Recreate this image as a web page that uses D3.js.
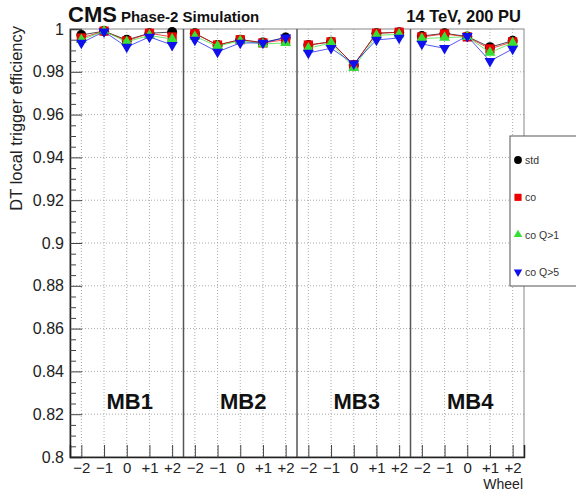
<!DOCTYPE html>
<html>
<head>
<meta charset="utf-8">
<script src="https://cdn.jsdelivr.net/npm/d3@7"></script>
<style>
  body { margin: 0; background: #fff; }
  svg { display: block; font-family: "Liberation Sans", Arial, sans-serif; }
</style>
</head>
<body>
<div id="chart"></div>
<script>
// data: 4 stations x 5 wheels
const stations = ["MB1", "MB2", "MB3", "MB4"];
const wheels = ["\u22122", "\u22121", "0", "+1", "+2"];
const yTicks = [0.8, 0.82, 0.84, 0.86, 0.88, 0.9, 0.92, 0.94, 0.96, 0.98, 1];

const effStd  = [0.9972, 0.9990, 0.9949, 0.9980, 0.9986,  0.9980, 0.9925, 0.9950, 0.9937, 0.9960,
                 0.9925, 0.9940, 0.9832, 0.9980, 0.9985,  0.9967, 0.9980, 0.9965, 0.9915, 0.9945];
const effCo   = [0.9958, 0.9990, 0.9944, 0.9980, 0.9963,  0.9978, 0.9925, 0.9950, 0.9935, 0.9950,
                 0.9925, 0.9940, 0.9832, 0.9980, 0.9985,  0.9963, 0.9977, 0.9963, 0.9907, 0.9940];
const effQ1   = [0.9949, 0.9990, 0.9940, 0.9970, 0.9953,  0.9965, 0.9920, 0.9945, 0.9930, 0.9935,
                 0.9910, 0.9935, 0.9818, 0.9970, 0.9975,  0.9955, 0.9960, 0.9963, 0.9890, 0.9935];
const effQ5   = [0.9935, 0.9988, 0.9916, 0.9963, 0.9925,  0.9949, 0.9893, 0.9935, 0.9935, 0.9960,
                 0.9888, 0.9910, 0.9838, 0.9949, 0.9958,  0.9930, 0.9910, 0.9967, 0.9850, 0.9907];

const series = [
  {name: "std",      vals: effStd, color: "#000000", shape: d3.symbolCircle,   size: 80},
  {name: "co",       vals: effCo,  color: "#ee0000", shape: d3.symbolSquare,   size: 85},
  {name: "co Q>1",   vals: effQ1,  color: "#33e033", shape: d3.symbolTriangle, size: 52},
  {name: "co Q>5",   vals: effQ5,  color: "#1010ee", shape: "down",            size: 52}
];

const W = 576, H = 493;
const pLeft = 70, pRight = 524, pTop = 29, pBottom = 457;

const svg = d3.select("#chart").append("svg")
  .attr("width", W).attr("height", H);

const x = d3.scaleLinear().domain([0, 20]).range([pLeft, pRight]);
const y = d3.scaleLinear().domain([0.8, 1]).range([pBottom, pTop]);
const idx = d3.range(20);

// grid
svg.append("g").selectAll("line")
  .data(yTicks.slice(1, -1))
  .join("line")
  .attr("x1", pLeft).attr("x2", pRight)
  .attr("y1", d => y(d)).attr("y2", d => y(d))
  .attr("stroke", "#aaa").attr("stroke-dasharray", "1,2");
svg.append("g").selectAll("line")
  .data(idx)
  .join("line")
  .attr("x1", d => x(d + 0.5)).attr("x2", d => x(d + 0.5))
  .attr("y1", pTop).attr("y2", pBottom)
  .attr("stroke", "#aaa").attr("stroke-dasharray", "1,2");

// frame
svg.append("rect")
  .attr("x", pLeft).attr("y", pTop)
  .attr("width", pRight - pLeft).attr("height", pBottom - pTop)
  .attr("fill", "none").attr("stroke", "#888");

// station dividers
svg.append("g").selectAll("line")
  .data([5, 10, 15])
  .join("line")
  .attr("x1", d => x(d)).attr("x2", d => x(d))
  .attr("y1", pTop).attr("y2", pBottom)
  .attr("stroke", "#555").attr("stroke-width", 1.5);

// y axis
const yAxis = svg.append("g")
  .attr("transform", `translate(${pLeft},0)`)
  .call(d3.axisLeft(y).tickValues(yTicks).tickSize(-12).tickPadding(6).tickFormat(d => String(d)));
const minor = d3.range(0, 41).map(k => +(0.8 + k * 0.005).toFixed(3)).filter(v => !yTicks.includes(v));
svg.append("g")
  .attr("transform", `translate(${pLeft},0)`)
  .call(d3.axisLeft(y).tickValues(minor).tickSize(-6).tickFormat(""))
  .call(g => g.select(".domain").remove())
  .selectAll("line").attr("stroke", "#444");

// x axis
const xAxis = svg.append("g")
  .attr("transform", `translate(0,${pBottom})`)
  .call(d3.axisBottom(x).tickValues(idx.map(i => i + 0.5)).tickSize(-12).tickPadding(5)
    .tickFormat((d, i) => wheels[i % 5]));

[yAxis, xAxis].forEach(g => {
  g.select(".domain").attr("stroke", "#222").attr("stroke-width", 1.5);
  g.selectAll(".tick line").attr("stroke", "#444");
  g.selectAll("text").attr("fill", "#222").style("font-size", "15px");
});
yAxis.selectAll("text").style("font-size", "16px");

// axis titles
svg.append("text")
  .attr("transform", `translate(22,${pTop - 3}) rotate(-90)`)
  .attr("text-anchor", "end")
  .style("font-size", "16.5px").attr("fill", "#222")
  .text("DT local trigger efficiency");
svg.append("text")
  .attr("x", pRight - 1).attr("y", 489)
  .attr("text-anchor", "end")
  .style("font-size", "14px").attr("fill", "#222")
  .text("Wheel");

// header
const head = svg.append("text").attr("x", 68).attr("y", 22).attr("fill", "#111").style("font-weight", "bold");
head.append("tspan").style("font-size", "22px").text("CMS");
head.append("tspan").attr("dx", 4).style("font-size", "15px").text("Phase-2 Simulation");
svg.append("text")
  .attr("x", pRight - 3).attr("y", 22)
  .attr("text-anchor", "end")
  .style("font-size", "16.5px").style("font-weight", "bold").attr("fill", "#111")
  .text("14 TeV, 200 PU");

// station labels
svg.append("g").selectAll("text")
  .data(stations)
  .join("text")
  .attr("x", (d, i) => x(i * 5 + 2.5) + 3)
  .attr("y", 409)
  .attr("text-anchor", "middle")
  .style("font-size", "22px").style("font-weight", "bold").attr("fill", "#111")
  .text(d => d);

// lines and markers
const line = d3.line().x(d => x(d.i + 0.5)).y(d => y(d.v));
function symbolPath(shape, size) {
  if (shape === "down") return d3.symbol(d3.symbolTriangle, size)();
  return d3.symbol(shape, size)();
}
series.forEach(s => {
  const g = svg.append("g");
  const pts = s.vals.map((v, i) => ({i, v}));
  d3.range(4).forEach(p => {
    g.append("path")
      .datum(pts.slice(p * 5, p * 5 + 5))
      .attr("d", line)
      .attr("fill", "none")
      .attr("stroke", s.color).attr("stroke-width", 1).attr("opacity", 0.7);
  });
  g.selectAll("path.m")
    .data(pts)
    .join("path")
    .attr("class", "m")
    .attr("d", symbolPath(s.shape, s.size))
    .attr("transform", d => `translate(${x(d.i + 0.5)},${y(d.v)})` + (s.shape === "down" ? " rotate(180)" : ""))
    .attr("fill", s.color);
});

// legend
const leg = svg.append("g");
leg.append("rect")
  .attr("x", 510).attr("y", 136)
  .attr("width", 80).attr("height", 150)
  .attr("fill", "#fff").attr("stroke", "#555");
const legY = d3.scalePoint().domain(series.map(s => s.name)).range([160, 272]);
series.forEach(s => {
  leg.append("path")
    .attr("d", symbolPath(s.shape, s.size * 0.6))
    .attr("transform", `translate(518,${legY(s.name)})` + (s.shape === "down" ? " rotate(180)" : ""))
    .attr("fill", s.color);
  leg.append("text")
    .attr("x", 525).attr("y", legY(s.name) + 4)
    .style("font-size", "10.5px").attr("fill", "#333")
    .text(s.name);
});
</script>
</body>
</html>
